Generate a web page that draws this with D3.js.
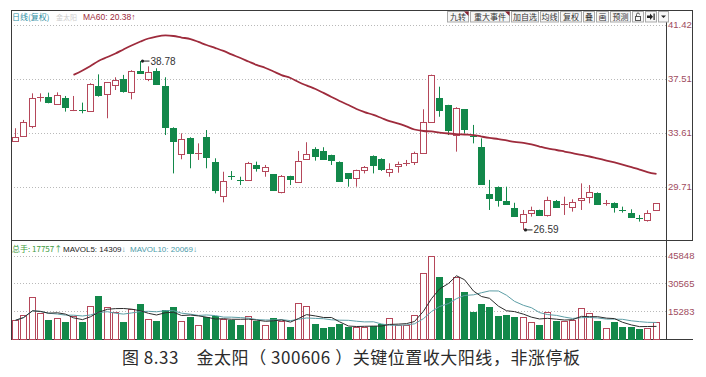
<!DOCTYPE html>
<html><head><meta charset="utf-8">
<script src="https://cdn.jsdelivr.net/npm/d3@7"></script>
<style>body{margin:0;background:#fff;} svg{display:block;}</style>
</head><body>
<svg id="c" width="706" height="377"></svg>
<script>
// ---- data ----
const opens = [33.01,33.32,34.04,36.10,36.17,35.68,36.14,35.20,35.26,35.18, 37.00,36.38,37.05,37.49,36.57,38.06,37.54,38.09,36.98,33.97, 32.07,33.25,32.10,33.32,31.47,29.06,30.50,30.16,30.20,31.27, 30.79,30.60,29.31,30.48,30.07,31.71,32.41,32.29,32.00,31.52, 30.67,30.31,30.92,31.95,31.71,30.80,31.20,31.38,31.44,32.16, 34.40,36.09,35.60,33.44,35.30,33.35,32.60,29.18,29.71,28.70, 28.15,27.14,27.79,28.03,27.67,28.68,28.44,28.27,28.73,28.94, 29.28,28.54,28.56,28.03,27.84,27.48,27.36,28.03];
const highs = [33.93,34.53,36.45,36.45,36.50,36.52,36.26,36.26,35.78,37.18, 37.82,37.27,37.61,37.78,38.12,38.78,38.40,38.26,37.61,34.00, 33.56,33.28,32.84,33.80,31.76,30.79,30.84,30.43,31.50,31.52, 31.28,30.62,30.55,30.50,32.29,32.92,32.56,32.56,32.02,31.54, 30.69,30.94,31.20,31.97,31.76,31.40,31.52,31.64,32.24,35.30, 37.80,36.93,35.62,35.45,35.32,34.17,33.20,30.20,29.73,29.71, 28.55,28.03,28.27,28.05,28.99,28.75,28.99,28.80,29.95,29.83, 29.30,28.75,28.58,28.27,28.08,27.67,28.01,28.53];
const lows = [32.96,33.30,33.93,35.85,35.73,35.61,35.13,35.17,35.01,35.13, 36.21,34.65,36.69,36.50,36.02,37.85,37.33,37.05,33.44,30.67, 31.69,31.04,31.64,31.04,29.23,28.58,30.20,29.83,30.14,30.80, 30.43,29.44,29.23,29.83,30.05,31.69,31.59,31.64,31.28,30.07, 29.71,29.71,30.67,30.67,30.85,30.43,30.72,31.20,31.28,32.12, 34.33,34.76,33.44,32.24,33.56,32.84,29.90,28.03,28.27,28.44, 27.55,26.59,27.55,27.60,27.55,28.20,27.67,27.91,28.03,28.51, 28.49,28.34,27.84,27.84,27.50,27.19,27.19,28.01];
const closes = [33.32,34.36,36.09,36.15,35.80,36.33,35.49,35.23,35.24,37.10, 36.38,37.25,37.41,36.64,38.09,37.90,38.01,37.17,34.00,33.03, 33.13,32.16,32.14,31.88,29.42,30.14,30.46,30.12,31.40,31.08, 31.11,29.47,30.48,30.24,31.59,32.05,31.93,31.71,31.64,30.12, 30.31,30.92,31.15,31.28,30.99,30.99,31.35,31.42,32.12,34.40, 37.78,35.25,33.80,35.42,33.85,33.28,29.92,28.87,28.80,28.46, 27.60,27.72,28.03,27.67,28.75,28.27,28.48,28.63,28.87,29.30, 28.51,28.56,28.27,28.00,27.55,27.46,27.84,28.51];
const volumes = [10300,13240,23000,14180,10300,11400,9540,12860,9200,18200, 23700,17800,14700,9540,16400,19150,10870,10100,15800,17800, 10100,12140,7720,12300,12700,11030,10480,7720,12700,10100, 7720,11770,10100,6800,20000,18400,8100,5900,6800,8100, 6800,6800,6450,7340,8100,11400,7720,7720,13240,36580, 45848,34370,22800,34370,25760,14700,19300,17800,12700,13240, 12300,12300,9540,7720,15060,9930,9930,10480,16940,14180, 9930,5900,9200,6800,6800,5350,6230,9540];
const ma60 = [null,null,null,null,null,null,null, 37.78,38.10,38.42,38.79,39.07,39.33,39.62,39.90,40.19,40.41, 40.55,40.63,40.59,40.48,40.37,40.16,39.94,39.72,39.51,39.26, 39.00,38.75,38.50,38.28,38.03,37.77,37.56,37.27,37.02,36.76, 36.48,36.19,35.90,35.61,35.32,35.10,34.89,34.67,34.45,34.27, 34.06,33.84,33.73,33.70,33.62,33.55,33.51,33.48,33.44,33.33, 33.23,33.15,33.05,32.94,32.87,32.76,32.61,32.47,32.36,32.25, 32.14,32.00,31.89,31.75,31.60,31.46,31.31,31.13,30.95,30.77, 30.63];
const priceTicks = [41.42, 37.51, 33.61, 29.71];
const volTicks = [45848, 30565, 15283];
const marks = [{i:15, v:38.78}, {i:61, v:26.59}];
const toolbar = ['九转','重大事件','加自选','均线','复权','叠','画','预测','lock','end','menu'];
const caption = '图 8.33　金太阳（ 300606 ）关键位置收大阳线，非涨停板';

// ---- style ----
const UP = '#b5475a', DOWN = '#12884a', MA = '#9e2b3c', LBL = '#a04c5e';
const NUM = '"Liberation Sans", Arial, sans-serif';
const CJK = '"Noto Sans CJK SC", sans-serif';
const n = opens.length;
const L = 11, R = 666, ROUT = 692, T = 10, PB = 240, VB = 339;

const svg = d3.select('#c');
const x = d3.scaleBand().domain(d3.range(n)).range([10.84, 659.8]);
const cx = i => Math.round(x(i) + x.bandwidth() / 2);
const y = d3.scaleLinear().domain([29.71, 41.42]).range([186.7, 24.5]);
const yv = d3.scaleLinear().domain([0, 45848]).range([VB, 255.7]);

// grid
const grid = svg.append('g').attr('stroke', '#b9b9b9').attr('stroke-dasharray', '1,2');
priceTicks.forEach(t => grid.append('line').attr('x1', L).attr('x2', R)
  .attr('y1', Math.round(y(t)) + 0.5).attr('y2', Math.round(y(t)) + 0.5));
volTicks.forEach(t => grid.append('line').attr('x1', L).attr('x2', R)
  .attr('y1', Math.round(yv(t)) + 0.5).attr('y2', Math.round(yv(t)) + 0.5));

// frame
const fr = svg.append('g').attr('stroke', '#3a3a3a').attr('stroke-width', 1).attr('fill', 'none');
fr.append('line').attr('x1', L + 0.5).attr('x2', L + 0.5).attr('y1', T).attr('y2', VB + 0.5);
fr.append('line').attr('x1', L).attr('x2', ROUT).attr('y1', T + 0.5).attr('y2', T + 0.5);
fr.append('line').attr('x1', R + 0.5).attr('x2', R + 0.5).attr('y1', T).attr('y2', VB + 0.5);
fr.append('line').attr('x1', ROUT + 0.5).attr('x2', ROUT + 0.5).attr('y1', T).attr('y2', PB + 0.5);
fr.append('line').attr('x1', L).attr('x2', ROUT + 1).attr('y1', PB + 0.5).attr('y2', PB + 0.5);
fr.append('line').attr('x1', L).attr('x2', ROUT + 1).attr('y1', VB + 0.5).attr('y2', VB + 0.5);

// axes labels
const ay = svg.append('g').attr('transform', `translate(${R},0)`)
  .call(d3.axisRight(y).tickValues(priceTicks).tickFormat(d3.format('.2f')).tickSize(0).tickPadding(2));
const av = svg.append('g').attr('transform', `translate(${R},0)`)
  .call(d3.axisRight(yv).tickValues(volTicks).tickFormat(d3.format('d')).tickSize(0).tickPadding(2));
[ay, av].forEach(a => { a.select('.domain').remove();
  a.selectAll('text').attr('fill', LBL).style('font-family', NUM).style('font-size', '9.5px'); });

// candles
const data = d3.range(n).map(i => ({i, o: opens[i], h: highs[i], l: lows[i], c: closes[i], v: volumes[i], up: closes[i] >= opens[i]}));
const cg = svg.append('g');
data.forEach(d => {
  const col = d.up ? UP : DOWN;
  const X = cx(d.i);
  const top = y(Math.max(d.o, d.c)), bot = y(Math.min(d.o, d.c));
  cg.append('line').attr('x1', X + 0.5).attr('x2', X + 0.5).attr('y1', y(d.h)).attr('y2', y(d.l)).attr('stroke', col);
  if (bot - top < 1.5) {
    cg.append('line').attr('x1', X - 3).attr('x2', X + 4).attr('y1', Math.round(top) + 0.5).attr('y2', Math.round(top) + 0.5).attr('stroke', col);
  } else {
    cg.append('rect').attr('x', X - 2.5).attr('width', 6).attr('y', Math.round(top) + 0.5).attr('height', Math.round(bot - top))
      .attr('fill', d.up ? '#fff' : DOWN).attr('stroke', col);
  }
});

// MA60
svg.append('path').datum(ma60).attr('fill', 'none').attr('stroke', MA).attr('stroke-width', 1.8)
  .attr('d', d3.line().defined(v => v != null).x((v, i) => cx(i) + 0.5).y(v => y(v)).curve(d3.curveMonotoneX));

// marks
marks.forEach(m => {
  const X = cx(m.i) + 0.5, Y = y(m.v);
  svg.append('circle').attr('cx', X + 2).attr('cy', Y).attr('r', 1.6).attr('fill', '#222');
  svg.append('line').attr('x1', X + 2).attr('x2', X + 9).attr('y1', Y).attr('y2', Y).attr('stroke', '#222');
  svg.append('text').attr('x', X + 10).attr('y', Y + 3.5).text(m.v.toFixed(2))
    .attr('fill', '#333').style('font-family', NUM).style('font-size', '10px');
});

// volume bars
const vg = svg.append('g');
data.forEach(d => {
  const X = cx(d.i), top = Math.round(yv(d.v));
  vg.append('rect').attr('x', X - 2.5).attr('width', 6).attr('y', top + 0.5).attr('height', VB - top)
    .attr('fill', d.up ? '#fff' : DOWN).attr('stroke', d.up ? UP : DOWN);
});
const mavol = k => volumes.map((v, i) => d3.mean(volumes.slice(Math.max(0, i - k + 1), i + 1)));
svg.append('path').datum(mavol(10)).attr('fill', 'none').attr('stroke', '#5d9ea6').attr('stroke-width', 1)
  .attr('d', d3.line().x((v, i) => cx(i) + 0.5).y(v => yv(v)));
svg.append('path').datum(mavol(5)).attr('fill', 'none').attr('stroke', '#2d2d2d').attr('stroke-width', 1)
  .attr('d', d3.line().x((v, i) => cx(i) + 0.5).y(v => yv(v)));

// legends
function legend(tx, ty, parts, fam, size) {
  const t = svg.append('text').attr('x', tx).attr('y', ty)
    .style('font-family', fam).style('font-size', size);
  parts.forEach(([s, c]) => t.append('tspan').text(s).attr('fill', c));
}
legend(12, 20, [['日线(复权)', '#2f8ea3']], CJK, '8px');
legend(56, 20, [['金太阳', '#cfcfcf']], CJK, '7px');
legend(83, 20, [['MA60: 20.38↑', MA]], NUM, '8.5px');
legend(12, 252, [['总手: 17757↑', '#3d9a3d']], CJK, '8px');
legend(63, 252, [['MAVOL5: 14309', '#222'], ['↓', '#5d9ea6']], NUM, '8px');
legend(130, 252, [['MAVOL10: 20069', '#4a9aa8'], ['↓', '#5d9ea6']], NUM, '8px');

// toolbar
const widths = [21, 39, 27, 18, 21, 11, 12, 20, 11, 11, 10];
let bx = 447;
const tb = svg.append('g');
toolbar.forEach((lab, k) => {
  const w = widths[k];
  tb.append('rect').attr('x', bx + 0.5).attr('y', 11.5).attr('width', w).attr('height', 10.5)
    .attr('fill', '#f6f6f6').attr('stroke', '#a9a9a9');
  if (lab === 'lock') {
    tb.append('rect').attr('x', bx + 3.5).attr('y', 16.5).attr('width', 5).attr('height', 4).attr('fill', 'none').attr('stroke', '#555');
    tb.append('path').attr('d', `M${bx + 4.5},16.5 v-2 a1.5,1.5 0 0 1 3,0`).attr('fill', 'none').attr('stroke', '#555');
  } else if (lab === 'end') {
    tb.append('path').attr('d', `M${bx + 2},15.5 h3 v-2 l3,3.2 l-3,3.2 v-2 h-3 z`).attr('fill', '#222');
    tb.append('rect').attr('x', bx + 8.5).attr('y', 13.5).attr('width', 1.2).attr('height', 6.5).attr('fill', '#222');
  } else if (lab === 'menu') {
    tb.append('path').attr('d', `M${bx + 3},15.5 h5 l-2.5,2.5 z`).attr('fill', '#222');
  } else {
    tb.append('text').attr('x', bx + w / 2 + 0.5).attr('y', 19.8).attr('text-anchor', 'middle').text(lab)
      .attr('fill', '#333').style('font-family', CJK).style('font-size', lab.length * 8 > w - 2 ? '7.5px' : '8px');
  }
  if (k < 2) tb.append('path').attr('d', `M${bx + w - 4},11.5 h4.5 v4.5 z`).attr('fill', '#8a2030');
  bx += w + 2;
});

// caption
svg.append('text').attr('x', 122).attr('y', 364).text(caption)
  .attr('textLength', 458).attr('lengthAdjust', 'spacing')
  .attr('fill', '#2b2b2b').style('font-family', CJK).style('font-size', '17px');
</script>
</body></html>
